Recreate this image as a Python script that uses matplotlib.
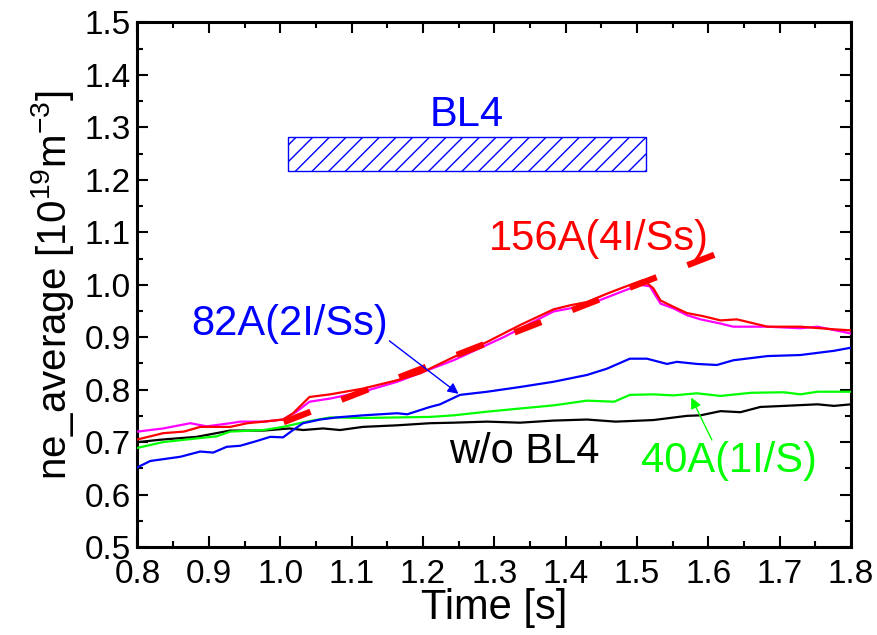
import numpy as np
import matplotlib
matplotlib.use('Agg')
import matplotlib.pyplot as plt
from matplotlib.patches import Rectangle
from matplotlib.ticker import MultipleLocator, FormatStrFormatter

plt.rcParams['font.family'] = ['Liberation Sans', 'DejaVu Sans']
plt.rcParams['mathtext.fontset'] = 'custom'
plt.rcParams['mathtext.rm'] = 'Liberation Sans'
plt.rcParams['mathtext.it'] = 'Liberation Sans:italic'
plt.rcParams['hatch.linewidth'] = 1.0
plt.rcParams['hatch.color'] = 'blue'

# w/o BL4
t_black = [0.80, 0.836, 0.883, 0.93, 0.977, 1.013, 1.032, 1.06, 1.084, 1.116, 1.164, 1.21, 1.243, 1.29,
           1.336, 1.383, 1.43, 1.47, 1.523, 1.57, 1.589, 1.617, 1.645, 1.673, 1.706, 1.753, 1.776, 1.80]
v_black = [0.70, 0.705, 0.71, 0.722, 0.722, 0.726, 0.723, 0.726, 0.723, 0.729, 0.732, 0.736, 0.737, 0.739,
           0.737, 0.741, 0.743, 0.739, 0.742, 0.75, 0.751, 0.759, 0.757, 0.767, 0.769, 0.772, 0.769, 0.772]

# 40A(1I/S)
t_green = [0.80, 0.836, 0.883, 0.911, 0.93, 0.977, 1.004, 1.037, 1.07, 1.116, 1.164, 1.21, 1.243, 1.29,
           1.336, 1.383, 1.43, 1.468, 1.49, 1.523, 1.551, 1.584, 1.617, 1.66, 1.706, 1.729, 1.753, 1.80]
v_green = [0.689, 0.70, 0.707, 0.711, 0.72, 0.723, 0.729, 0.739, 0.747, 0.746, 0.747, 0.748, 0.751, 0.758,
           0.764, 0.77, 0.779, 0.777, 0.79, 0.791, 0.789, 0.793, 0.788, 0.794, 0.795, 0.791, 0.796, 0.796]

# 82A(2I/Ss)
t_blue = [0.80, 0.818, 0.86, 0.888, 0.906, 0.925, 0.944, 0.967, 0.986, 1.004, 1.018, 1.032, 1.056, 1.079,
          1.116, 1.164, 1.178, 1.21, 1.224, 1.252, 1.29, 1.336, 1.383, 1.43, 1.458, 1.49, 1.514, 1.542,
          1.556, 1.584, 1.612, 1.635, 1.683, 1.729, 1.776, 1.80]
v_blue = [0.652, 0.664, 0.672, 0.682, 0.68, 0.691, 0.693, 0.702, 0.71, 0.709, 0.723, 0.736, 0.743, 0.747,
          0.751, 0.755, 0.753, 0.767, 0.772, 0.79, 0.796, 0.805, 0.815, 0.828, 0.84, 0.859, 0.859, 0.849,
          0.853, 0.849, 0.847, 0.856, 0.864, 0.866, 0.874, 0.88]

# 156A(4I/Ss)
t_red = [0.80, 0.836, 0.865, 0.888, 0.93, 0.954, 0.977, 1.004, 1.018, 1.041, 1.07, 1.116, 1.164, 1.196,
         1.243, 1.29, 1.336, 1.383, 1.407, 1.43, 1.458, 1.481, 1.509, 1.523, 1.533, 1.551, 1.57, 1.593,
         1.617, 1.64, 1.683, 1.729, 1.776, 1.80]
v_red = [0.705, 0.717, 0.72, 0.729, 0.729, 0.736, 0.739, 0.743, 0.755, 0.786, 0.791, 0.802, 0.818, 0.831,
         0.862, 0.891, 0.923, 0.953, 0.961, 0.967, 0.983, 0.995, 1.009, 0.993, 0.97, 0.958, 0.946, 0.94,
         0.932, 0.934, 0.92, 0.92, 0.915, 0.913]

t_magenta = [0.80, 0.836, 0.874, 0.897, 0.93, 0.944, 0.977, 1.004, 1.023, 1.041, 1.07, 1.116, 1.164, 1.243,
             1.313, 1.383, 1.43, 1.477, 1.504, 1.518, 1.533, 1.551, 1.57, 1.589, 1.617, 1.635, 1.683, 1.729,
             1.753, 1.80]
v_magenta = [0.72, 0.726, 0.736, 0.73, 0.736, 0.739, 0.739, 0.743, 0.758, 0.777, 0.783, 0.796, 0.815, 0.856,
             0.90, 0.949, 0.961, 0.986, 1.0, 0.997, 0.964, 0.955, 0.942, 0.934, 0.926, 0.92, 0.92, 0.917,
             0.92, 0.907]

# thick dashed fit line
t_fit = [1.005, 1.61]
v_fit = [0.738, 1.058]

# BL4 window
bl4_start, bl4_end = 1.011, 1.512
bl4_low, bl4_high = 1.217, 1.282

fig = plt.figure(figsize=(8.78, 6.35), dpi=100)
ax = fig.add_axes([0.1566, 0.1386, 0.8127, 0.826])

ax.plot(t_black, v_black, color='black', lw=1.6, zorder=2)
ax.plot(t_green, v_green, color='#00ff00', lw=1.6, zorder=3)
ax.plot(t_blue, v_blue, color='#0000ff', lw=1.6, zorder=4)
ax.plot(t_magenta, v_magenta, color='#ff00ff', lw=1.6, zorder=5)
ax.plot(t_red, v_red, color='#ff0000', lw=1.6, zorder=6)
ax.plot(t_fit, v_fit, color='#ff0000', lw=4.5, dashes=(4.6, 5.3), zorder=7)

rect = Rectangle((bl4_start, bl4_low), bl4_end - bl4_start, bl4_high - bl4_low,
                 facecolor='none', edgecolor='blue', hatch='//', lw=1.0, zorder=3)
ax.add_patch(rect)

fs = 30
ax.text(1.262, 1.302, 'BL4', color='blue', fontsize=fs, ha='center', va='baseline')
ax.text(1.292, 1.066, '156A(4I/Ss)', color='red', fontsize=fs, ha='left', va='baseline')
ax.text(0.876, 0.904, '82A(2I/Ss)', color='blue', fontsize=fs, ha='left', va='baseline')
ax.text(1.236, 0.661, 'w/o BL4', color='black', fontsize=fs, ha='left', va='baseline')
ax.text(1.505, 0.643, '40A(1I/S)', color='#00ff00', fontsize=fs, ha='left', va='baseline')

ax.annotate('', xy=(1.25, 0.792), xytext=(1.153, 0.893),
            arrowprops=dict(arrowstyle='-|>', color='blue', lw=1.0, mutation_scale=16,
                            shrinkA=0, shrinkB=0), zorder=8)
ax.annotate('', xy=(1.576, 0.785), xytext=(1.605, 0.704),
            arrowprops=dict(arrowstyle='-|>', color='#00ff00', lw=1.0, mutation_scale=16,
                            shrinkA=0, shrinkB=0), zorder=8)

ax.set_xlim(0.8, 1.8)
ax.set_ylim(0.5, 1.5)
ax.xaxis.set_major_locator(MultipleLocator(0.1))
ax.xaxis.set_minor_locator(MultipleLocator(0.05))
ax.yaxis.set_major_locator(MultipleLocator(0.1))
ax.yaxis.set_minor_locator(MultipleLocator(0.05))
ax.xaxis.set_major_formatter(FormatStrFormatter('%.1f'))
ax.yaxis.set_major_formatter(FormatStrFormatter('%.1f'))
ax.tick_params(which='both', direction='in', top=True, right=True, width=1.5)
ax.tick_params(which='major', length=8, labelsize=24)
ax.tick_params(which='minor', length=4.5)
ax.tick_params(axis='x', pad=9)
ax.tick_params(axis='y', pad=5)
for sp in ax.spines.values():
    sp.set_linewidth(2.2)

ax.set_xlabel('Time [s]', fontsize=30, labelpad=-2)
ax.set_ylabel('ne_average [10$^{\\mathrm{19}}$m$^{\\mathrm{-3}}$]', fontsize=29, labelpad=6)

fig.savefig('out.png', dpi=100)
